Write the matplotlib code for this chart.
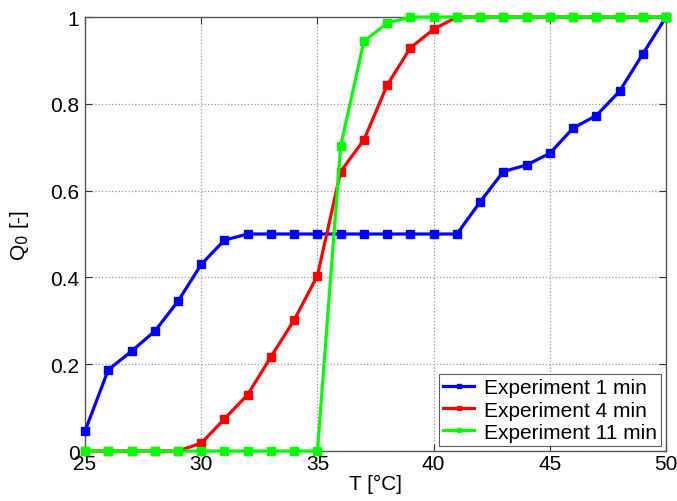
import matplotlib
matplotlib.use("Agg")
import matplotlib.pyplot as plt
from matplotlib.ticker import FixedLocator, FixedFormatter

plt.rcParams['font.family'] = ['Liberation Sans', 'DejaVu Sans']

temperature = list(range(25, 51))

q0_1min = [0.046, 0.187, 0.23, 0.276, 0.345, 0.43, 0.486, 0.5, 0.5, 0.5,
           0.5, 0.5, 0.5, 0.5, 0.5, 0.5, 0.5, 0.574, 0.644, 0.659,
           0.686, 0.744, 0.773, 0.829, 0.915, 1.0]
q0_4min = [0.0, 0.0, 0.0, 0.0, 0.0, 0.018, 0.074, 0.13, 0.217, 0.302,
           0.404, 0.644, 0.717, 0.843, 0.929, 0.972, 1.0, 1.0, 1.0, 1.0,
           1.0, 1.0, 1.0, 1.0, 1.0, 1.0]
q0_11min = [0.0, 0.0, 0.0, 0.0, 0.0, 0.0, 0.0, 0.0, 0.0, 0.0,
            0.0, 0.703, 0.944, 0.986, 1.0, 1.0, 1.0, 1.0, 1.0, 1.0,
            1.0, 1.0, 1.0, 1.0, 1.0, 1.0]

labels = ["Experiment 1 min", "Experiment 4 min", "Experiment 11 min"]
colors = ["#0000ff", "#ff0000", "#00ff00"]

x_ticks = [25, 30, 35, 40, 45, 50]
y_ticks = [0, 0.2, 0.4, 0.6, 0.8, 1]
y_tick_labels = ["0", "0.2", "0.4", "0.6", "0.8", "1"]

fig = plt.figure(figsize=(6.77, 5.02), dpi=100)
ax = fig.add_axes([0.1256, 0.0996, 0.8582, 0.8645])

for series, lab, col in zip([q0_1min, q0_4min, q0_11min], labels, colors):
    ax.plot(temperature, series, color=col, lw=2.3, marker='s', ms=5.5,
            mec=col, mfc=col, label=lab, clip_on=False, zorder=3)

ax.set_xlim(25, 50)
ax.set_ylim(0, 1)
ax.xaxis.set_major_locator(FixedLocator(x_ticks))
ax.yaxis.set_major_locator(FixedLocator(y_ticks))
ax.yaxis.set_major_formatter(FixedFormatter(y_tick_labels))
ax.tick_params(direction='in', labelsize=15, length=5, width=0.8,
               top=True, right=True, colors='#333333', labelcolor='black')
ax.tick_params(axis='x', pad=2)
ax.tick_params(axis='y', pad=4)
ax.grid(True, linestyle=':', color='#999999', linewidth=0.9)
for s in ax.spines.values():
    s.set_color('#555555')
    s.set_linewidth(1.0)

ax.set_xlabel("T [°C]", fontsize=15, labelpad=1)
ax.set_ylabel("Q$_0$ [-]", fontsize=15, labelpad=14)

leg = ax.legend(loc='lower right', fontsize=15, frameon=True, fancybox=False,
                edgecolor='#333333', borderpad=0.2, labelspacing=0.15,
                handlelength=1.5, handletextpad=0.45, borderaxespad=0.25,
                markerscale=0.6)
leg.get_frame().set_linewidth(0.8)

fig.savefig("out.png", dpi=100)
